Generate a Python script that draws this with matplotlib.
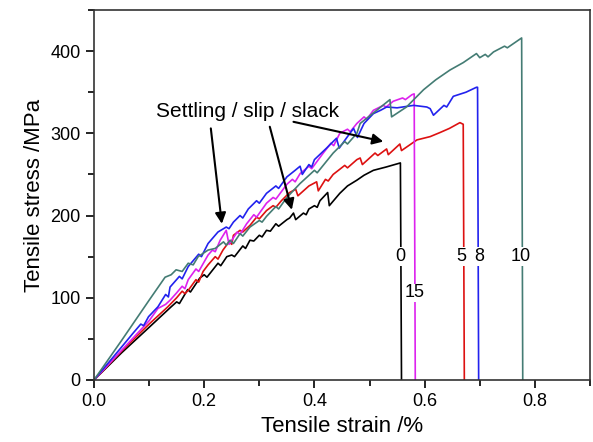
import matplotlib
matplotlib.use('Agg')
import matplotlib.pyplot as plt
from matplotlib.ticker import MultipleLocator

plt.rcParams['font.family'] = ['Liberation Sans', 'DejaVu Sans']

# stress-strain curves (strain in %, stress in MPa)
x0 = [0, 0.05, 0.10, 0.14, 0.15, 0.155, 0.17, 0.175, 0.192, 0.20, 0.205, 0.225, 0.23, 0.241, 0.25,
      0.255, 0.27, 0.275, 0.283, 0.29, 0.30, 0.305, 0.313, 0.32, 0.33, 0.335, 0.35, 0.355, 0.362, 0.366,
      0.38, 0.385, 0.39, 0.40, 0.405, 0.41, 0.424, 0.427, 0.446, 0.46, 0.477, 0.49, 0.507, 0.53, 0.556,
      0.558]
y0 = [0, 33, 64, 89, 95, 93, 110, 107, 124, 128, 125, 142, 139, 150, 152,
      150, 163, 160, 170, 169, 176, 174, 182, 181, 190, 187, 195, 197, 203, 195,
      203, 201, 208, 212, 210, 218, 228, 212, 227, 236, 243, 249, 255, 259, 264,
      0]

x5 = [0, 0.05, 0.10, 0.134, 0.15, 0.16, 0.165, 0.171, 0.185, 0.19, 0.198, 0.207, 0.22, 0.225, 0.234,
      0.245, 0.25, 0.253, 0.265, 0.27, 0.283, 0.295, 0.30, 0.313, 0.325, 0.33, 0.34, 0.355, 0.366,
      0.370, 0.39, 0.404, 0.407, 0.42, 0.425, 0.434, 0.455, 0.46, 0.477, 0.483, 0.487, 0.51, 0.515,
      0.531, 0.534, 0.555, 0.558, 0.586, 0.61, 0.628, 0.645, 0.664, 0.670, 0.672]
y5 = [0, 35, 68, 89, 100, 108, 105, 109, 122, 119, 132, 140, 150, 147, 158,
      168, 165, 176, 182, 180, 188, 198, 196, 206, 212, 210, 218, 228, 232,
      224, 236, 241, 230, 244, 242, 250, 261, 258, 268, 270, 262, 276, 273,
      281, 274, 287, 279, 292, 296, 301, 306, 313, 311, 0]

x15 = [0, 0.05, 0.10, 0.116, 0.13, 0.138, 0.15, 0.16, 0.165, 0.171, 0.185, 0.19, 0.207, 0.215, 0.22,
       0.229, 0.24, 0.245, 0.26, 0.265, 0.277, 0.29, 0.295, 0.313, 0.325, 0.33, 0.35, 0.36, 0.365,
       0.374, 0.39, 0.395, 0.416, 0.43, 0.435, 0.446, 0.46, 0.465, 0.477, 0.49, 0.495, 0.507, 0.525,
       0.53, 0.543, 0.56, 0.565, 0.577, 0.581, 0.583]
y15 = [0, 36, 72, 87, 92, 97, 106, 114, 111, 122, 135, 132, 152, 158, 156,
       170, 182, 165, 180, 177, 190, 201, 198, 215, 222, 220, 238, 244, 241,
       251, 260, 257, 276, 288, 285, 300, 305, 302, 312, 320, 317, 328, 334,
       332, 339, 343, 341, 347, 348, 0]

x8 = [0, 0.05, 0.071, 0.085, 0.09, 0.099, 0.116, 0.13, 0.135, 0.138, 0.155, 0.16, 0.171, 0.19, 0.195,
      0.207, 0.225, 0.24, 0.245, 0.253, 0.265, 0.27, 0.28, 0.295, 0.30, 0.313, 0.33, 0.335, 0.35, 0.365,
      0.374, 0.378, 0.39, 0.395, 0.40, 0.422, 0.44, 0.445, 0.46, 0.471, 0.478, 0.49, 0.507, 0.52,
      0.531, 0.55, 0.58, 0.604, 0.61, 0.616, 0.635, 0.64, 0.652, 0.675, 0.694, 0.696, 0.698]
y8 = [0, 40, 57, 68, 66, 77, 89, 104, 101, 113, 126, 123, 138, 153, 150,
      166, 180, 186, 184, 192, 200, 197, 208, 218, 215, 227, 236, 233, 247, 255,
      260, 250, 262, 259, 268, 282, 294, 282, 296, 306, 295, 312, 324, 328,
      332, 331, 334, 332, 330, 322, 334, 332, 345, 350, 356, 356, 0]

x10 = [0, 0.05, 0.10, 0.129, 0.14, 0.149, 0.16, 0.171, 0.18, 0.189, 0.207, 0.22, 0.235, 0.24, 0.247,
       0.253, 0.265, 0.27, 0.283, 0.30, 0.305, 0.313, 0.33, 0.335, 0.35, 0.374, 0.40, 0.405, 0.434,
       0.455, 0.46, 0.477, 0.483, 0.513, 0.537, 0.540, 0.567, 0.598, 0.62, 0.646, 0.67, 0.694, 0.70,
       0.71, 0.715, 0.725, 0.745, 0.75, 0.776, 0.778]
y10 = [0, 48, 97, 125, 128, 134, 132, 142, 140, 150, 158, 160, 168, 164, 170,
       166, 178, 175, 186, 194, 192, 199, 211, 208, 222, 239, 255, 252, 276,
       290, 287, 300, 312, 328, 341, 320, 332, 353, 365, 377, 386, 397, 392,
       396, 393, 399, 406, 404, 416, 0]

curves = [(x0, y0, 'black'), (x5, y5, '#dd1111'), (x15, y15, '#dd22ee'),
          (x8, y8, '#2222ee'), (x10, y10, '#447c74')]

# curve labels: text, x, y
labels = [('0', 0.556, 150), ('5', 0.667, 150), ('8', 0.699, 150), ('10', 0.774, 150), ('15', 0.582, 106)]

fig, ax = plt.subplots(figsize=(5.93, 4.42), dpi=100)
fig.subplots_adjust(left=0.1585, right=0.9949, bottom=0.1403, top=0.9774)

for x, y, c in curves:
    ax.plot(x, y, color=c, lw=1.2)

for t, lx, ly in labels:
    ax.text(lx, ly, t, ha='center', va='center', fontsize=13, zorder=5,
            bbox=dict(facecolor='white', edgecolor='none', pad=0.5))

ax.text(0.1125, 320, 'Settling / slip / slack', fontsize=15, ha='left', va='baseline')
arrows = [((0.212, 306), (0.232, 190)), ((0.319, 308), (0.359, 207)), ((0.362, 314), (0.525, 290))]
for start, tip in arrows:
    ax.annotate('', xy=tip, xytext=start,
                arrowprops=dict(arrowstyle='-|>', color='black', lw=1.5, mutation_scale=16,
                                shrinkA=0, shrinkB=0))

ax.set_xlim(0, 0.9)
ax.set_ylim(0, 450)
ax.xaxis.set_major_locator(MultipleLocator(0.2))
ax.xaxis.set_minor_locator(MultipleLocator(0.1))
ax.yaxis.set_major_locator(MultipleLocator(100))
ax.yaxis.set_minor_locator(MultipleLocator(50))
ax.tick_params(which='major', direction='out', length=6, width=1.2, labelsize=13)
ax.tick_params(which='minor', direction='out', length=4, width=1.2)
ax.xaxis.set_major_formatter(plt.FormatStrFormatter('%.1f'))
for s in ax.spines.values():
    s.set_linewidth(1.2)
    s.set_color('#333333')

ax.set_xlabel('Tensile strain /%', fontsize=16)
ax.set_ylabel('Tensile stress /MPa', fontsize=16)

fig.savefig('out.png', dpi=100)
